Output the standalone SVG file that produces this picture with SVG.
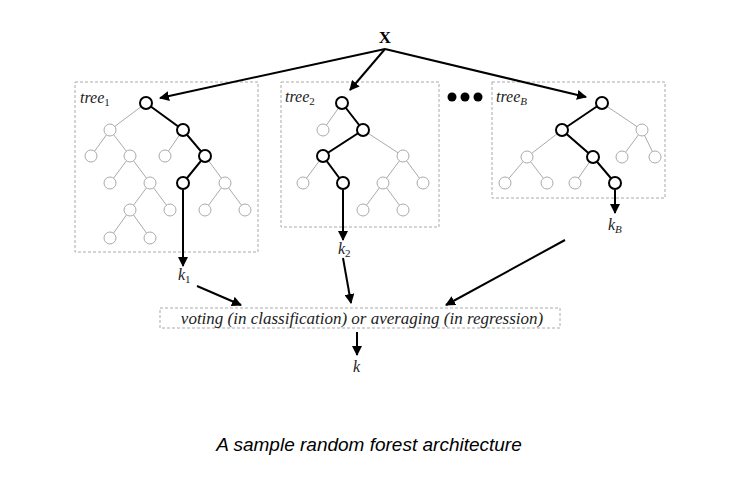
<svg xmlns="http://www.w3.org/2000/svg" width="737" height="478" viewBox="0 0 737 478">
<defs>
<marker id="ah" viewBox="0 0 10 10" refX="9" refY="5" markerWidth="10" markerHeight="10" markerUnits="userSpaceOnUse" orient="auto">
<path d="M0,0 L10,5 L0,10 z" fill="#000"/>
</marker>
</defs>
<style>
.box{fill:none;stroke:#aaa;stroke-width:1;stroke-dasharray:3,2}
.ge{stroke:#aaa;stroke-width:1;fill:none}
.be{stroke:#000;stroke-width:2;fill:none}
.gn{fill:#fff;stroke:#aaa;stroke-width:1}
.bn{fill:#fff;stroke:#000;stroke-width:2}
.ar{stroke:#000;stroke-width:2;fill:none;marker-end:url(#ah)}
.lbl{font-family:"Liberation Serif","Times New Roman",serif;font-style:italic;font-size:16px;fill:#222}
.sub{font-size:11px}
.up{font-style:normal}
</style>
<rect width="737" height="478" fill="#fff"/>
<text x="385" y="43" text-anchor="middle" font-family="Liberation Serif, serif" font-weight="bold" font-size="17" fill="#000">X</text>

<g id="tree1">
<rect class="box" x="75" y="82" width="183" height="170"/>
<text class="lbl" x="80" y="103">tree<tspan class="sub up" dy="3">1</tspan></text>
<path class="ge" d="M146,103 L110,130 M110,130 L91,156 M110,130 L130,156 M130,156 L110,183 M130,156 L150,183 M150,183 L130,210 M150,183 L170,210 M130,210 L110,238 M130,210 L150,238 M183,130 L165,156 M205,156 L225,183 M225,183 L205,210 M225,183 L245,210"/>
<path class="be" d="M146,103 L183,130 L205,156 L183,183"/>
<circle class="gn" cx="110" cy="130" r="6"/><circle class="gn" cx="91" cy="156" r="6"/><circle class="gn" cx="130" cy="156" r="6"/><circle class="gn" cx="165" cy="156" r="6"/><circle class="gn" cx="110" cy="183" r="6"/><circle class="gn" cx="150" cy="183" r="6"/><circle class="gn" cx="225" cy="183" r="6"/><circle class="gn" cx="130" cy="210" r="6"/><circle class="gn" cx="170" cy="210" r="6"/><circle class="gn" cx="205" cy="210" r="6"/><circle class="gn" cx="245" cy="210" r="6"/><circle class="gn" cx="110" cy="238" r="6"/><circle class="gn" cx="150" cy="238" r="6"/>
<circle class="bn" cx="146" cy="103" r="6"/><circle class="bn" cx="183" cy="130" r="6"/><circle class="bn" cx="205" cy="156" r="6"/><circle class="bn" cx="183" cy="183" r="6"/>
</g>

<g id="tree2">
<rect class="box" x="281" y="82" width="158" height="145"/>
<text class="lbl" x="285" y="102">tree<tspan class="sub up" dy="3">2</tspan></text>
<path class="ge" d="M342,103 L323,130 M363,130 L403,156 M323,156 L303,183 M403,156 L383,183 M403,156 L423,183 M383,183 L363,210 M383,183 L403,210"/>
<path class="be" d="M342,103 L363,130 L323,156 L343,183"/>
<circle class="gn" cx="323" cy="130" r="6"/><circle class="gn" cx="403" cy="156" r="6"/><circle class="gn" cx="303" cy="183" r="6"/><circle class="gn" cx="383" cy="183" r="6"/><circle class="gn" cx="423" cy="183" r="6"/><circle class="gn" cx="363" cy="210" r="6"/><circle class="gn" cx="403" cy="210" r="6"/>
<circle class="bn" cx="342" cy="103" r="6"/><circle class="bn" cx="363" cy="130" r="6"/><circle class="bn" cx="323" cy="156" r="6"/><circle class="bn" cx="343" cy="183" r="6"/>
</g>

<g id="dots">
<circle cx="452" cy="97" r="4.5" fill="#000"/><circle cx="465" cy="97" r="4.5" fill="#000"/><circle cx="478" cy="97" r="4.5" fill="#000"/>
</g>

<g id="treeB">
<rect class="box" x="492" y="82" width="173" height="116"/>
<text class="lbl" x="496" y="102">tree<tspan class="sub" dy="3">B</tspan></text>
<path class="ge" d="M602,103 L642,130 M642,130 L622,157 M642,130 L655,157 M562,130 L527,157 M527,157 L505,183 M527,157 L547,183 M593,157 L575,183"/>
<path class="be" d="M602,103 L562,130 L593,157 L615,183"/>
<circle class="gn" cx="642" cy="130" r="6"/><circle class="gn" cx="527" cy="157" r="6"/><circle class="gn" cx="622" cy="157" r="6"/><circle class="gn" cx="655" cy="157" r="6"/><circle class="gn" cx="505" cy="183" r="6"/><circle class="gn" cx="547" cy="183" r="6"/><circle class="gn" cx="575" cy="183" r="6"/>
<circle class="bn" cx="602" cy="103" r="6"/><circle class="bn" cx="562" cy="130" r="6"/><circle class="bn" cx="593" cy="157" r="6"/><circle class="bn" cx="615" cy="183" r="6"/>
</g>

<g id="combine">
<rect class="box" x="160" y="308" width="400" height="20"/>
<text x="362" y="324" text-anchor="middle" font-family="Liberation Serif, serif" font-style="italic" font-size="17" fill="#222">voting (in classification) or averaging (in regression)</text>
</g>

<g id="labels">
<text class="lbl" x="178" y="280">k<tspan class="sub up" dy="3">1</tspan></text>
<text class="lbl" x="338" y="254">k<tspan class="sub up" dy="3">2</tspan></text>
<text class="lbl" x="608" y="230">k<tspan class="sub" dy="3">B</tspan></text>
<text class="lbl" x="353" y="372">k</text>
</g>

<g id="connectors">
<line class="ar" x1="385" y1="49" x2="160" y2="98"/>
<line class="ar" x1="385" y1="49" x2="350" y2="90"/>
<line class="ar" x1="385" y1="49" x2="586" y2="97"/>
<line class="ar" x1="183" y1="190" x2="183" y2="266"/>
<line class="ar" x1="343" y1="190" x2="343" y2="240"/>
<line class="ar" x1="615" y1="190" x2="615" y2="213"/>
<line class="ar" x1="197" y1="286" x2="241" y2="305"/>
<line class="ar" x1="343" y1="258" x2="351" y2="303"/>
<line class="ar" x1="565" y1="240" x2="446" y2="305"/>
<line class="ar" x1="357" y1="332" x2="357" y2="355"/>
</g>

<text x="369" y="451" text-anchor="middle" font-family="Liberation Sans, Arial, sans-serif" font-style="italic" font-size="19" fill="#000">A sample random forest architecture</text>
</svg>
